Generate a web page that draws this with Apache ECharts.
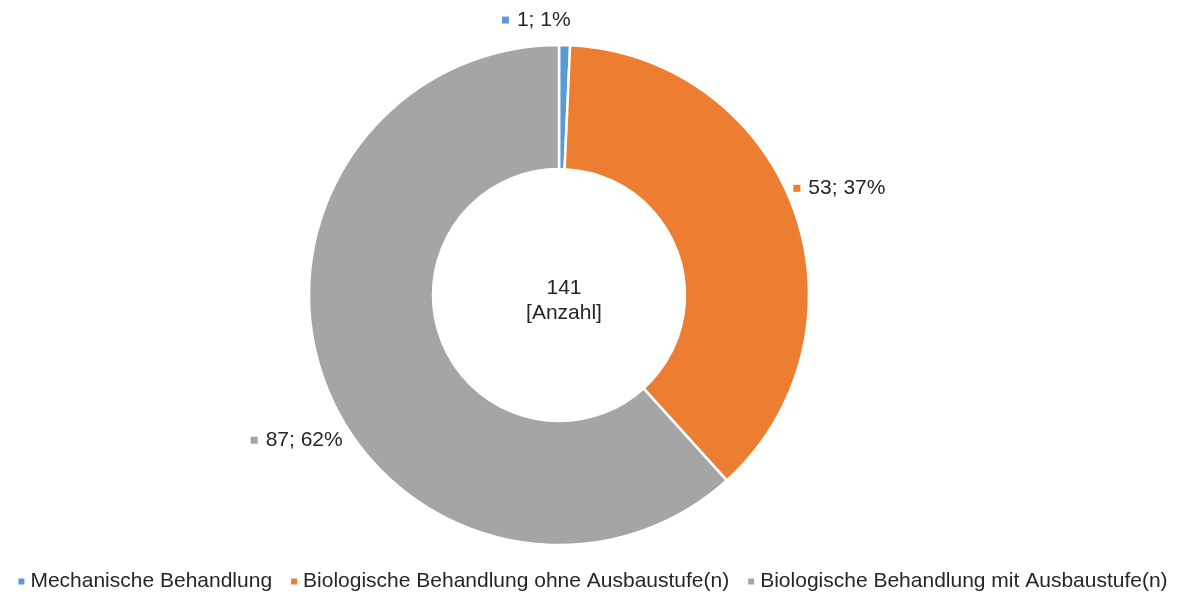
<!DOCTYPE html>
<html>
<head>
<meta charset="utf-8">
<script src="https://cdn.jsdelivr.net/npm/echarts@6/dist/echarts.min.js"></script>
<style>
html, body { margin: 0; padding: 0; background: #fff; }
#main { width: 1184px; height: 592px; }
</style>
</head>
<body>
<div id="main"></div>
<script>
// data
const categories = ['Mechanische Behandlung', 'Biologische Behandlung ohne Ausbaustufe(n)', 'Biologische Behandlung mit Ausbaustufe(n)'];
const counts = [1, 53, 87];
const percents = [1, 37, 62];
const unit = '[Anzahl]';

const colors = ['#5B9BD5', '#ED7D31', '#A5A5A5'];
const font = '"Liberation Sans", Arial, sans-serif';
const textColor = '#262626';
// small nudges so the outside labels sit where the original had them
const labelShift = [[-68, -10], [-20, -17], [36, 50]];

const total = counts.reduce((a, b) => a + b, 0);

const rich = {
  g: { width: 8 },
  t: { fontFamily: font, fontSize: 21, color: textColor },
};
colors.forEach((c, i) => {
  rich['m' + i] = { width: 7, height: 7, backgroundColor: c };
});

const myChart = echarts.init(document.getElementById('main'));

const option = {
  animation: false,
  color: colors,
  textStyle: { fontFamily: font },
  title: {
    text: total + '\n' + unit,
    left: 559,
    top: 271,
    textAlign: 'center',
    textStyle: {
      fontFamily: font,
      fontSize: 21,
      fontWeight: 'normal',
      color: textColor,
      lineHeight: 25,
    },
  },
  legend: {
    data: categories,
    left: 'center',
    top: 566,
    icon: 'rect',
    itemWidth: 8,
    itemHeight: 8,
    itemGap: 17,
    textStyle: {
      fontFamily: font,
      fontSize: 21,
      color: textColor,
    },
  },
  series: [
    {
      type: 'pie',
      center: [559, 295],
      radius: [126, 250],
      startAngle: 90,
      clockwise: true,
      avoidLabelOverlap: false,
      itemStyle: {
        borderColor: '#fff',
        borderWidth: 2.5,
      },
      label: {
        show: true,
        position: 'outside',
        fontFamily: font,
        formatter: (p) => '{m' + p.dataIndex + '|}{g|}{t|' + p.value + '; ' + percents[p.dataIndex] + '%}',
        rich: rich,
      },
      labelLine: { show: false, length: 15, length2: 0 },
      labelLayout: (p) => ({ dx: labelShift[p.dataIndex][0], dy: labelShift[p.dataIndex][1] }),
      emphasis: { disabled: true },
      data: categories.map((name, i) => ({ name: name, value: counts[i] })),
    },
  ],
};

myChart.setOption(option);
</script>
</body>
</html>
